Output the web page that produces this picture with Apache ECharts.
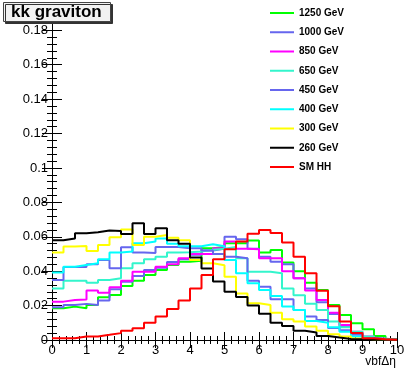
<!DOCTYPE html>
<html>
<head>
<meta charset="utf-8">
<script src="https://cdn.jsdelivr.net/npm/echarts@6/dist/echarts.min.js"></script>
<style>
html,body{margin:0;padding:0;background:#fff;}
#container1{width:407px;height:392px;}
</style>
</head>
<body>
<div id="container1"></div>
<script>
// 30 bins from 0 to 10
var nBins = 30;
var xMin = 0, xMax = 10;

var names = ["1250 GeV","1000 GeV","850 GeV","650 GeV","450 GeV","400 GeV","300 GeV","260 GeV","SM HH"];
var colors = ["#00ff00","#6666ee","#ff00ff","#33f5cc","#6666ee","#00ffff","#ffff00","#000000","#ff0000"];

var h1250 = [0.0184,0.0194,0.0184,0.0203,0.0248,0.0262,0.0314,0.0345,0.0378,0.0407,0.0436,0.0455,0.0460,0.0533,0.0540,0.0562,0.0562,0.0578,0.0508,0.0523,0.0450,0.0400,0.0333,0.0290,0.0203,0.0145,0.0097,0.0062,0.0023,0.0005];
var h1000 = [0.0190,0.0203,0.0210,0.0203,0.0229,0.0295,0.0339,0.0372,0.0407,0.0420,0.0453,0.0470,0.0495,0.0520,0.0530,0.0600,0.0586,0.0530,0.0484,0.0455,0.0440,0.0359,0.0300,0.0220,0.0151,0.0080,0.0035,0.0014,0.0005,0.0002];
var h850 = [0.0223,0.0233,0.0236,0.0287,0.0275,0.0307,0.0345,0.0397,0.0397,0.0426,0.0440,0.0475,0.0500,0.0500,0.0533,0.0572,0.0530,0.0527,0.0475,0.0475,0.0400,0.0359,0.0287,0.0233,0.0159,0.0087,0.0048,0.0020,0.0008,0.0003];
var h650 = [0.0300,0.0345,0.0345,0.0333,0.0349,0.0359,0.0417,0.0446,0.0470,0.0484,0.0508,0.0510,0.0515,0.0525,0.0530,0.0540,0.0475,0.0397,0.0397,0.0388,0.0300,0.0260,0.0210,0.0174,0.0107,0.0074,0.0048,0.0020,0.0008,0.0003];
var h450 = [0.0349,0.0424,0.0424,0.0440,0.0465,0.0417,0.0539,0.0508,0.0505,0.0541,0.0541,0.0533,0.0533,0.0520,0.0500,0.0484,0.0475,0.0345,0.0310,0.0237,0.0237,0.0174,0.0136,0.0116,0.0070,0.0056,0.0031,0.0012,0.0005,0.0002];
var h400 = [0.0393,0.0426,0.0436,0.0446,0.0469,0.0508,0.0514,0.0562,0.0572,0.0590,0.0560,0.0545,0.0545,0.0556,0.0545,0.0465,0.0388,0.0330,0.0290,0.0256,0.0194,0.0174,0.0110,0.0100,0.0074,0.0048,0.0020,0.0008,0.0003,0.0001];
var h300 = [0.0508,0.0543,0.0547,0.0517,0.0552,0.0597,0.0643,0.0552,0.0600,0.0610,0.0595,0.0580,0.0465,0.0446,0.0435,0.0368,0.0271,0.0213,0.0203,0.0159,0.0120,0.0107,0.0078,0.0054,0.0033,0.0020,0.0008,0.0005,0.0003,0.0002];
var h260 = [0.0580,0.0590,0.0620,0.0626,0.0636,0.0634,0.0616,0.0678,0.0616,0.0650,0.0580,0.0560,0.0480,0.0415,0.0340,0.0280,0.0250,0.0200,0.0153,0.0100,0.0081,0.0054,0.0043,0.0023,0.0014,0.0006,0.0005,0.0003,0.0002,0.0001];
var hSM = [0.0010,0.0010,0.0020,0.0021,0.0030,0.0040,0.0054,0.0068,0.0100,0.0136,0.0180,0.0230,0.0300,0.0378,0.0470,0.0528,0.0572,0.0618,0.0640,0.0622,0.0566,0.0484,0.0388,0.0286,0.0196,0.0107,0.0040,0.0010,0.0004,0.0002];

var hists = [h1250,h1000,h850,h650,h450,h400,h300,h260,hSM];

var yTicks = ["0","0.02","0.04","0.06","0.08","0.1","0.12","0.14","0.16","0.18"];

var font = "Liberation Sans, Arial, Helvetica, sans-serif";

// bin low edges -> step points
function toSteps(h){
	var pts = [];
	var w = (xMax - xMin) / nBins;
	for(var i=0;i<h.length;i++){
		pts.push([xMin + i*w, h[i]]);
	}
	pts.push([xMax, h[h.length-1]]);
	return pts;
}

var series = [];
for(var i=0;i<names.length;i++){
	series.push({
		name : names[i],
		type : 'line',
		step : 'end',
		symbol : 'none',
		data : toSteps(hists[i]),
		lineStyle : {color : colors[i], width : 2},
		itemStyle : {color : colors[i]},
		z : 2 + i
	});
}

var frameLine = {show:true, lineStyle:{color:'#000', width:1}};

var myChart = echarts.init(document.getElementById("container1"));
myChart.setOption({
	animation : false,
	backgroundColor : '#fff',
	title : {
		text : 'kk graviton',
		left : 3,
		top : 2,
		padding : [2,9,1,8],
		backgroundColor : '#f2f2f2',
		borderColor : '#444',
		borderWidth : 1,
		shadowColor : '#333',
		shadowOffsetX : 2,
		shadowOffsetY : 2,
		shadowBlur : 0,
		textStyle : {fontFamily : font, fontSize : 17, fontWeight : 'bold', color : '#000'}
	},
	legend : {
		orient : 'vertical',
		left : 262,
		top : 0,
		padding : [8,70,6,7],
		backgroundColor : '#fff',
		itemWidth : 24,
		itemHeight : 10,
		itemGap : 9.25,
		data : names,
		itemStyle : {opacity : 0},
		textStyle : {fontFamily : font, fontSize : 10, fontWeight : 'bold', color : '#000'},
		z : 20
	},
	grid : {left : 52, right : 10, top : 20, bottom : 52, outerBoundsMode : 'none'},
	xAxis : [{
		type : 'value',
		min : 0, max : 10, interval : 1,
		axisLine : frameLine,
		axisTick : {inside : true, length : 8, lineStyle : {color:'#000'}},
		minorTick : {show : true, splitNumber : 5, length : 4, lineStyle : {color:'#000'}},
		splitLine : {show : false},
		axisLabel : {fontFamily : font, fontSize : 13, color : '#000', margin : 4},
		name : 'vbfΔη',
		nameLocation : 'end',
		nameGap : -1,
		nameMoveOverlap : false,
		nameTextStyle : {fontFamily : font, fontSize : 12, color : '#000', align : 'right', verticalAlign : 'top', padding : [16,0,0,0]}
	},{
		type : 'value',
		position : 'top',
		min : 0, max : 10, interval : 1,
		axisLine : frameLine,
		axisTick : {inside : true, length : 8, lineStyle : {color:'#000'}},
		minorTick : {show : true, splitNumber : 5, length : 4, lineStyle : {color:'#000'}},
		splitLine : {show : false},
		axisLabel : {show : false}
	}],
	yAxis : [{
		type : 'value',
		min : 0, max : 0.186, interval : 0.02,
		axisLine : frameLine,
		axisTick : {inside : true, length : 10, lineStyle : {color:'#000'}},
		minorTick : {show : true, splitNumber : 5, length : 5, lineStyle : {color:'#000'}},
		splitLine : {show : false},
		axisLabel : {
			fontFamily : font, fontSize : 13, color : '#000', margin : 4,
			formatter : function(v){
				var k = Math.round(v / 0.02);
				if(Math.abs(v - k*0.02) > 1e-6) return '';
				return yTicks[k] || '';
			}
		}
	},{
		type : 'value',
		position : 'right',
		min : 0, max : 0.186, interval : 0.02,
		axisLine : frameLine,
		axisTick : {inside : true, length : 10, lineStyle : {color:'#000'}},
		minorTick : {show : true, splitNumber : 5, length : 5, lineStyle : {color:'#000'}},
		splitLine : {show : false},
		axisLabel : {show : false}
	}],
	series : series
});
</script>
</body>
</html>
